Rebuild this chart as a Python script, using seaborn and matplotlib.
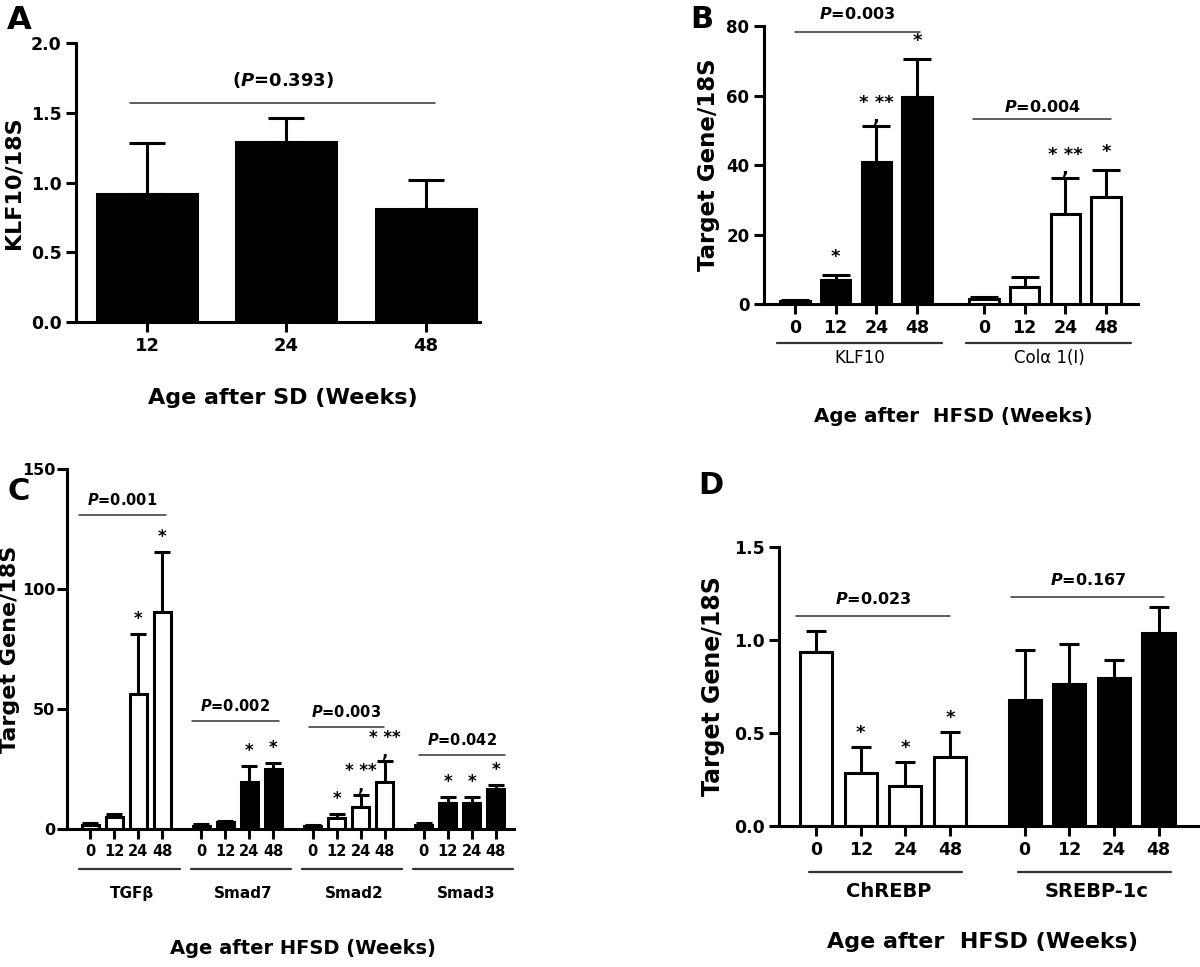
import numpy as np
import pandas as pd
import matplotlib
matplotlib.use("Agg")
import matplotlib.pyplot as plt
import matplotlib.transforms as mtransforms
import seaborn as sns

sns.set_theme(style="ticks")
plt.rcParams['font.family'] = ['DejaVu Sans']
plt.rcParams['font.weight'] = 'bold'
plt.rcParams['axes.labelweight'] = 'bold'
plt.rcParams['mathtext.fontset'] = 'custom'
plt.rcParams['mathtext.it'] = 'DejaVu Sans:italic:bold'
plt.rcParams['mathtext.rm'] = 'DejaVu Sans:bold'
plt.rcParams['mathtext.bf'] = 'DejaVu Sans:bold'
for k in ['text.color', 'axes.labelcolor', 'xtick.color', 'ytick.color', 'axes.edgecolor']:
    plt.rcParams[k] = 'black'

#%% Dados
weeks = ['0', '12', '24', '48']

# A - KLF10, dieta padrão
a_weeks = ['12', '24', '48']
a_mean = [0.92, 1.29, 0.81]
a_sem = [0.36, 0.17, 0.21]
a_p = '($P$=0.393)'
a_p_y = 1.57

# B - KLF10 e Colα1(I), HFSD
b_genes = ['KLF10', 'Colα 1(I)']
b_klf10_mean = [0.8, 7.0, 40.8, 59.7]
b_klf10_sem = [0.4, 1.3, 10.4, 10.9]
b_col_mean = [1.4, 4.9, 26.0, 30.9]
b_col_sem = [0.6, 2.8, 10.2, 7.7]
b_fill = ['black', 'white']
b_stars = [['', '*', '* **', '*'], ['', '', '* **', '*']]
b_p = ['$P$=0.003', '$P$=0.004']
b_p_y = [78.3, 53.1]

# C - TGFβ / Smads
c_genes = ['TGFβ', 'Smad7', 'Smad2', 'Smad3']
c_tgfb_mean = [1.7, 4.9, 56.2, 90.6]
c_tgfb_sem = [0.7, 1.3, 25.0, 25.0]
c_smad7_mean = [1.2, 3.0, 19.7, 25.0]
c_smad7_sem = [0.7, 0.5, 6.6, 2.4]
c_smad2_mean = [1.2, 4.7, 9.0, 19.4]
c_smad2_sem = [0.3, 1.5, 5.2, 8.9]
c_smad3_mean = [1.5, 11.0, 11.0, 16.5]
c_smad3_sem = [0.8, 2.5, 2.5, 1.8]
c_fill = ['white', 'black', 'white', 'black']
c_stars = [['', '', '*', '*'], ['', '', '*', '*'],
           ['', '*', '* **', '* **'], ['', '*', '*', '*']]
c_p = ['$P$=0.001', '$P$=0.002', '$P$=0.003', '$P$=0.042']
c_p_y = [130.8, 45.1, 42.6, 30.8]

# D - ChREBP / SREBP-1c
d_genes = ['ChREBP', 'SREBP-1c']
d_chrebp_mean = [0.934, 0.286, 0.217, 0.369]
d_chrebp_sem = [0.113, 0.140, 0.125, 0.138]
d_srebp_mean = [0.677, 0.766, 0.798, 1.040]
d_srebp_sem = [0.272, 0.211, 0.093, 0.138]
d_fill = ['white', 'black']
d_stars = [['', '*', '*', '*'], ['', '', '', '']]
d_p = ['$P$=0.023', '$P$=0.167']
d_p_y = [1.128, 1.231]

LW = 2.2


def style_ax(ax, ylim, yticks, ysize, ypad=3.5):
    sns.despine(ax=ax)
    for s in ['left', 'bottom']:
        ax.spines[s].set_linewidth(LW)
    ax.set_ylim(*ylim)
    ax.set_yticks(yticks)
    ax.tick_params(axis='both', width=LW, length=7, direction='out')
    ax.tick_params(axis='y', labelsize=ysize, pad=ypad)


def bars(ax, pos, mean, sem, fill, capsize):
    df = pd.DataFrame({'pos': pos, 'val': mean})
    sns.barplot(data=df, x='pos', y='val', native_scale=True, orient='x',
                width=0.72, color=fill, saturation=1, errorbar=None,
                edgecolor='black', linewidth=LW, zorder=2, ax=ax)
    ax.errorbar(pos, mean, yerr=[np.zeros(len(sem)), sem], fmt='none',
                ecolor='black', elinewidth=LW, capsize=capsize,
                capthick=LW, zorder=1)


def stars_on(ax, pos, mean, sem, labels, off, size=13):
    for x, m, s, lab in zip(pos, mean, sem, labels):
        if not lab:
            continue
        if '**' in lab:
            # vírgula abaixo, entre * e **
            ax.annotate(lab + '\n,', (x, m + s), xytext=(0, 0), textcoords='offset pixels',
                        ha='center', va='bottom', fontsize=size, linespacing=0.75)
        else:
            ax.annotate(lab, (x, m + s), xytext=(0, off), textcoords='offset pixels',
                        ha='center', va='center', fontsize=size)


def p_line(ax, x0, x1, y, label, size=13, gap=17):
    ax.plot([x0, x1], [y, y], color='#333333', lw=1.1, clip_on=False)
    ax.annotate(label, ((x0 + x1) / 2, y), xytext=(0, gap), textcoords='offset pixels',
                ha='center', va='center', fontsize=size)


def group_lines(ax, starts, names, ly, ty, x0, x1, xc, size, weight):
    trans = mtransforms.blended_transform_factory(ax.transData, ax.transAxes)
    for st, name in zip(starts, names):
        ax.plot([st + x0, st + x1], [ly, ly], color='#333333', lw=1.6,
                transform=trans, clip_on=False)
        ax.text(st + xc, ty, name, transform=trans, ha='center', va='center',
                fontsize=size, fontweight=weight)


fig = plt.figure(figsize=(12, 9.67), dpi=100)

#%% A
ax = fig.add_axes([0.0633, 0.667, 0.3367, 0.2885])
pos = np.arange(len(a_weeks))
bars(ax, pos, a_mean, a_sem, 'black', 13)
style_ax(ax, (0, 2.0), [0, 0.5, 1.0, 1.5, 2.0], 12.5)
ax.set_xlim(-0.51, 2.39)
ax.set_xticks(pos, a_weeks, fontsize=13)
p_line(ax, -0.12, 2.07, a_p_y, a_p, size=13, gap=23)
ax.set_ylabel('KLF10/18S', fontsize=16)
ax.yaxis.set_label_coords(-0.131, 0.5)
ax.set_xlabel('Age after SD (Weeks)', fontsize=16)
ax.xaxis.set_label_coords(0.513, -0.235)
fig.text(0.006, 0.995, 'A', fontsize=23, fontweight='bold', va='top')

#%% B
ax = fig.add_axes([0.6367, 0.6856, 0.3117, 0.2875])
step_b = 4.65
b_means = [b_klf10_mean, b_col_mean]
b_sems = [b_klf10_sem, b_col_sem]
ticks, labs = [], []
for g in range(2):
    pos = g * step_b + np.arange(4)
    bars(ax, pos, b_means[g], b_sems[g], b_fill[g], 10)
    stars_on(ax, pos, b_means[g], b_sems[g], b_stars[g], 18)
    ticks += list(pos)
    labs += weeks
style_ax(ax, (0, 80), [0, 20, 40, 60, 80], 12)
ax.set_xlim(-0.76, 8.44)
ax.set_xticks(ticks, labs, fontsize=12.5)
p_line(ax, 0.0, 3.07, b_p_y[0], b_p[0], size=11.5, gap=18)
p_line(ax, step_b - 0.27, step_b + 3.13, b_p_y[1], b_p[1], size=11.5, gap=12)
group_lines(ax, [0, step_b], b_genes, -0.14, -0.194, -0.44, 3.62, 1.6, 12, 'normal')
ax.set_ylabel('Target Gene/18S', fontsize=16.5)
ax.yaxis.set_label_coords(-0.118, 0.5)
ax.set_xlabel('Age after  HFSD (Weeks)', fontsize=14.3)
ax.xaxis.set_label_coords(0.505, -0.37)
fig.text(0.575, 0.995, 'B', fontsize=22, fontweight='bold', va='top')

#%% C
ax = fig.add_axes([0.0558, 0.1427, 0.3725, 0.3723])
step_c = 4.63
c_means = [c_tgfb_mean, c_smad7_mean, c_smad2_mean, c_smad3_mean]
c_sems = [c_tgfb_sem, c_smad7_sem, c_smad2_sem, c_smad3_sem]
c_span = [(-0.46, 3.15), (-0.39, 3.22), (-0.14, 2.97), (-0.18, 3.4)]
ticks, labs = [], []
for g in range(4):
    pos = g * step_c + np.arange(4)
    bars(ax, pos, c_means[g], c_sems[g], c_fill[g], 6)
    stars_on(ax, pos, c_means[g], c_sems[g], c_stars[g], 15, size=12)
    p_line(ax, g * step_c + c_span[g][0], g * step_c + c_span[g][1],
           c_p_y[g], c_p[g], size=10.5, gap=15)
    ticks += list(pos)
    labs += weeks
style_ax(ax, (0, 150), [0, 50, 100, 150], 11.5, ypad=1.5)
ax.set_xlim(-0.97, 17.65)
ax.set_xticks(ticks, labs, fontsize=10.5)
group_lines(ax, [g * step_c for g in range(4)], c_genes, -0.111, -0.178,
            -0.45, 3.72, 1.75, 11, 'bold')
ax.set_ylabel('Target Gene/18S', fontsize=16)
ax.yaxis.set_label_coords(-0.104, 0.5)
ax.set_xlabel('Age after HFSD (Weeks)', fontsize=14)
ax.xaxis.set_label_coords(0.528, -0.305)
fig.text(0.006, 0.507, 'C', fontsize=22, fontweight='bold', va='top')

#%% D
ax = fig.add_axes([0.6492, 0.1458, 0.349, 0.2885])
step_d = 4.67
d_means = [d_chrebp_mean, d_srebp_mean]
d_sems = [d_chrebp_sem, d_srebp_sem]
d_span = [(-0.45, 3.0), (-0.3, 3.13)]
ticks, labs = [], []
for g in range(2):
    pos = g * step_d + np.arange(4)
    bars(ax, pos, d_means[g], d_sems[g], d_fill[g], 7)
    stars_on(ax, pos, d_means[g], d_sems[g], d_stars[g], 14, size=13)
    p_line(ax, g * step_d + d_span[g][0], g * step_d + d_span[g][1],
           d_p_y[g], d_p[g], size=11.5, gap=17)
    ticks += list(pos)
    labs += weeks
style_ax(ax, (0, 1.5), [0, 0.5, 1.0, 1.5], 12.5)
ax.set_xlim(-0.83, 8.55)
ax.set_xticks(ticks, labs, fontsize=12.5)
group_lines(ax, [0, step_d], d_genes, -0.165, -0.233, -0.15, 3.27, 1.62, 14, 'bold')
ax.set_ylabel('Target Gene/18S', fontsize=17)
ax.yaxis.set_label_coords(-0.129, 0.5)
ax.set_xlabel('Age after  HFSD (Weeks)', fontsize=16)
ax.xaxis.set_label_coords(0.487, -0.38)
fig.text(0.582, 0.513, 'D', fontsize=22, fontweight='bold', va='top')

fig.savefig('out.png', dpi=100)
